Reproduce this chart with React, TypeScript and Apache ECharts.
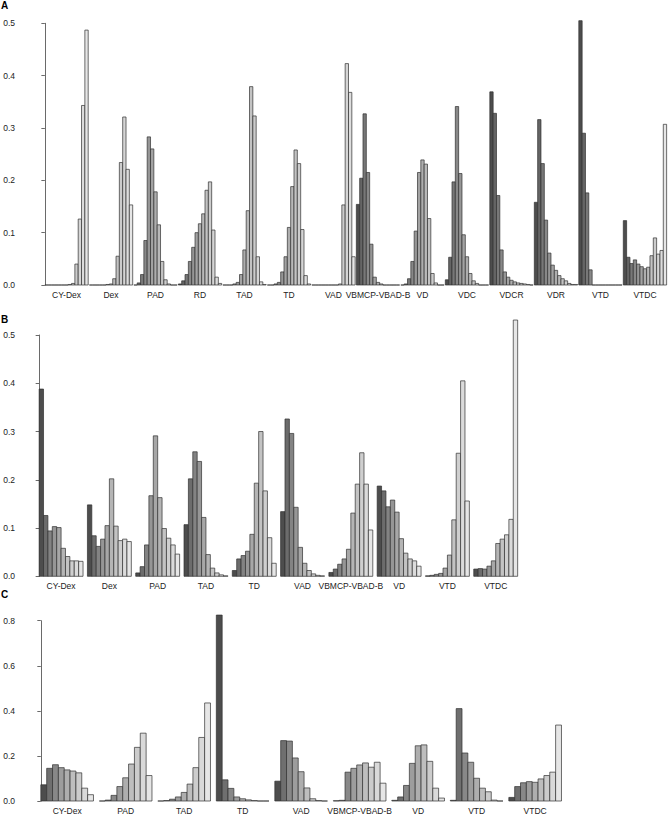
import React, { useEffect, useRef } from "react";
import * as echarts from "echarts";

// ---------- Data ----------
const catsA = ["CY-Dex", "Dex", "PAD", "RD", "TAD", "TD", "VAD", "VBMCP-VBAD-B", "VD", "VDC", "VDCR", "VDR", "VTD", "VTDC"];
const valuesA: number[][] = [
  [0, 0, 0, 0, 0, 0, 0, 0.001, 0.003, 0.04, 0.126, 0.343, 0.487],
  [0, 0, 0, 0, 0, 0.001, 0.002, 0.012, 0.055, 0.234, 0.321, 0.221, 0.153],
  [0, 0.004, 0.02, 0.085, 0.283, 0.26, 0.178, 0.115, 0.045, 0.01, 0.002, 0, 0],
  [0.002, 0.008, 0.02, 0.045, 0.072, 0.1, 0.117, 0.136, 0.181, 0.197, 0.105, 0.015, 0.003],
  [0, 0, 0, 0.002, 0.005, 0.02, 0.067, 0.142, 0.379, 0.323, 0.054, 0.006, 0.001],
  [0, 0, 0.002, 0.005, 0.025, 0.054, 0.11, 0.188, 0.258, 0.232, 0.106, 0.018, 0.002],
  [0, 0, 0, 0, 0, 0, 0, 0, 0.002, 0.153, 0.423, 0.368, 0.054],
  [0.154, 0.204, 0.327, 0.215, 0.078, 0.015, 0.005, 0.002, 0, 0, 0, 0, 0],
  [0, 0.002, 0.012, 0.045, 0.103, 0.215, 0.239, 0.231, 0.127, 0.022, 0.004, 0, 0],
  [0.01, 0.053, 0.197, 0.341, 0.213, 0.096, 0.054, 0.022, 0.008, 0.003, 0, 0, 0],
  [0.369, 0.328, 0.171, 0.067, 0.025, 0.015, 0.009, 0.006, 0.004, 0.003, 0.002, 0.001, 0],
  [0.158, 0.316, 0.232, 0.124, 0.061, 0.038, 0.028, 0.018, 0.012, 0.008, 0.003, 0.001, 0.001],
  [0.505, 0.29, 0.176, 0.029, 0, 0, 0, 0, 0, 0, 0, 0, 0],
  [0.123, 0.053, 0.041, 0.048, 0.04, 0.035, 0.031, 0.034, 0.056, 0.09, 0.059, 0.066, 0.307],
];

const catsB = ["CY-Dex", "Dex", "PAD", "TAD", "TD", "VAD", "VBMCP-VBAD-B", "VD", "VTD", "VTDC"];
const valuesB: number[][] = [
  [0.388, 0.126, 0.094, 0.103, 0.101, 0.058, 0.041, 0.032, 0.032, 0.031],
  [0.148, 0.084, 0.062, 0.077, 0.105, 0.202, 0.104, 0.074, 0.077, 0.072],
  [0.007, 0.02, 0.065, 0.167, 0.291, 0.163, 0.099, 0.079, 0.065, 0.046],
  [0.107, 0.202, 0.258, 0.238, 0.122, 0.045, 0.017, 0.007, 0.003, 0.001],
  [0.012, 0.036, 0.043, 0.052, 0.087, 0.193, 0.3, 0.177, 0.08, 0.027],
  [0.134, 0.326, 0.296, 0.143, 0.06, 0.027, 0.012, 0.005, 0.002, 0.001],
  [0.008, 0.015, 0.025, 0.036, 0.056, 0.131, 0.191, 0.256, 0.191, 0.096],
  [0.187, 0.177, 0.144, 0.158, 0.133, 0.078, 0.048, 0.036, 0.032, 0.021],
  [0.001, 0.002, 0.004, 0.006, 0.017, 0.044, 0.117, 0.255, 0.405, 0.156],
  [0.015, 0.016, 0.015, 0.021, 0.032, 0.068, 0.077, 0.086, 0.118, 0.552],
];

const catsC = ["CY-Dex", "PAD", "TAD", "TD", "VAD", "VBMCP-VBAD-B", "VD", "VTD", "VTDC"];
const valuesC: number[][] = [
  [0.072, 0.145, 0.161, 0.148, 0.138, 0.133, 0.125, 0.057, 0.028],
  [0, 0.004, 0.025, 0.064, 0.103, 0.164, 0.238, 0.301, 0.113],
  [0, 0.002, 0.008, 0.018, 0.038, 0.075, 0.148, 0.282, 0.435],
  [0.825, 0.094, 0.056, 0.018, 0.01, 0.005, 0.002, 0, 0],
  [0.088, 0.268, 0.266, 0.191, 0.13, 0.058, 0.01, 0.002, 0],
  [0.001, 0.003, 0.128, 0.145, 0.16, 0.169, 0.15, 0.172, 0.079],
  [0.003, 0.018, 0.069, 0.167, 0.245, 0.249, 0.176, 0.057, 0.013],
  [0.003, 0.41, 0.213, 0.172, 0.101, 0.057, 0.041, 0.004, 0],
  [0.016, 0.064, 0.081, 0.086, 0.083, 0.098, 0.113, 0.128, 0.337],
];

const yTicksA = [0, 0.1, 0.2, 0.3, 0.4, 0.5];
const yTicksB = [0, 0.1, 0.2, 0.3, 0.4, 0.5];
const yTicksC = [0, 0.2, 0.4, 0.6, 0.8];

// ---------- Helpers ----------
function grayColors(n: number): string[] {
  const g = 2.2;
  const a = Math.pow(0.3, g);
  const b = Math.pow(0.9, g);
  const out: string[] = [];
  for (let i = 0; i < n; i++) {
    const v = Math.pow(a + (i / (n - 1)) * (b - a), 1 / g);
    const c = Math.round(v * 255).toString(16).padStart(2, "0");
    out.push("#" + c + c + c);
  }
  return out;
}

function buildData(values: number[][], gap: number) {
  const n = values[0].length;
  const data: number[][] = [];
  const centers: number[] = [];
  values.forEach((grp, g) => {
    const start = g * (n + gap);
    centers.push(start + n / 2);
    grp.forEach((v, k) => data.push([start + k + 0.5, v, k]));
  });
  return { data, centers, n };
}

const FONT = "'Liberation Sans', Arial, Helvetica, sans-serif";

export default function App() {
  const ref = useRef<HTMLDivElement>(null);
  useEffect(() => {
    if (!ref.current) return;
    const chart = echarts.init(ref.current, undefined, { renderer: "svg" });

    const A = buildData(valuesA, 0.35);
    const B = buildData(valuesB, 1);
    const C = buildData(valuesC, 1);
    const colA = grayColors(A.n);
    const colB = grayColors(B.n);
    const colC = grayColors(C.n);

    const makeRender = (cols: string[], cap: number) => (params: any, api: any) => {
      const x = api.value(0);
      const v = Math.min(api.value(1), cap);
      const ci = api.value(2);
      const p0 = api.coord([x - 0.5, v]);
      const p1 = api.coord([x + 0.5, 0]);
      return {
        type: "rect",
        shape: { x: p0[0], y: p0[1], width: p1[0] - p0[0], height: p1[1] - p0[1] },
        style: { fill: cols[ci], stroke: "#303030", lineWidth: 0.7 },
      };
    };

    const xAxisFor = (gridIndex: number, min: number, max: number, centers: number[], cats: string[]) => ({
      type: "value",
      gridIndex,
      min,
      max,
      axisLine: { show: false },
      axisTick: { show: false },
      splitLine: { show: false },
      axisLabel: {
        customValues: centers,
        margin: 5,
        fontSize: 8.5,
        color: "#222",
        fontFamily: FONT,
        formatter: (val: number) => {
          const i = centers.findIndex((c) => Math.abs(c - val) < 1e-6);
          return i >= 0 ? cats[i] : "";
        },
      },
    });

    const yAxisFor = (gridIndex: number, max: number, interval: number, ticks: number[]) => ({
      type: "value",
      gridIndex,
      min: ticks[0],
      max,
      interval,
      axisLine: { show: true, lineStyle: { color: "#6a6a6a", width: 1 } },
      axisTick: { show: true, length: 3.5, lineStyle: { color: "#6a6a6a" } },
      splitLine: { show: false },
      axisLabel: {
        margin: 5,
        fontSize: 8.5,
        color: "#222",
        fontFamily: FONT,
        formatter: (v: number) => v.toFixed(1),
      },
    });

    const letter = (t: string, top: number) => ({
      type: "text",
      left: 1,
      top,
      style: { text: t, font: `bold 10px ${FONT}`, fill: "#000" },
    });

    chart.setOption({
      animation: false,
      backgroundColor: "#fff",
      grid: [
        { left: 20, top: 23.3, width: 649, height: 261.7 },
        { left: 20, top: 335, width: 516.8, height: 241.3 },
        { left: 20, top: 620.7, width: 562.3, height: 181.6 },
      ],
      xAxis: [
        xAxisFor(0, -7.46, -7.46 + 649 / 3.333, A.centers, catsA),
        xAxisFor(1, -4.36, 113.36, B.centers, catsB),
        xAxisFor(2, -3.56, 92.56, C.centers, catsC),
      ],
      yAxis: [
        yAxisFor(0, 0.5, 0.1, yTicksA),
        yAxisFor(1, 0.5, 0.1, yTicksB),
        yAxisFor(2, 0.8, 0.2, yTicksC),
      ],
      series: [
        { type: "custom", xAxisIndex: 0, yAxisIndex: 0, clip: false, renderItem: makeRender(colA, 1), data: A.data, encode: { x: 0, y: 1 } },
        { type: "custom", xAxisIndex: 1, yAxisIndex: 1, clip: false, renderItem: makeRender(colB, 0.531), data: B.data, encode: { x: 0, y: 1 } },
        { type: "custom", xAxisIndex: 2, yAxisIndex: 2, clip: false, renderItem: makeRender(colC, 1), data: C.data, encode: { x: 0, y: 1 } },
      ],
      graphic: [letter("A", 0), letter("B", 314), letter("C", 589)],
    });

    return () => chart.dispose();
  }, []);

  return <div ref={ref} style={{ position: "fixed", left: 0, top: 0, width: 669, height: 815, background: "#fff" }} />;
}
